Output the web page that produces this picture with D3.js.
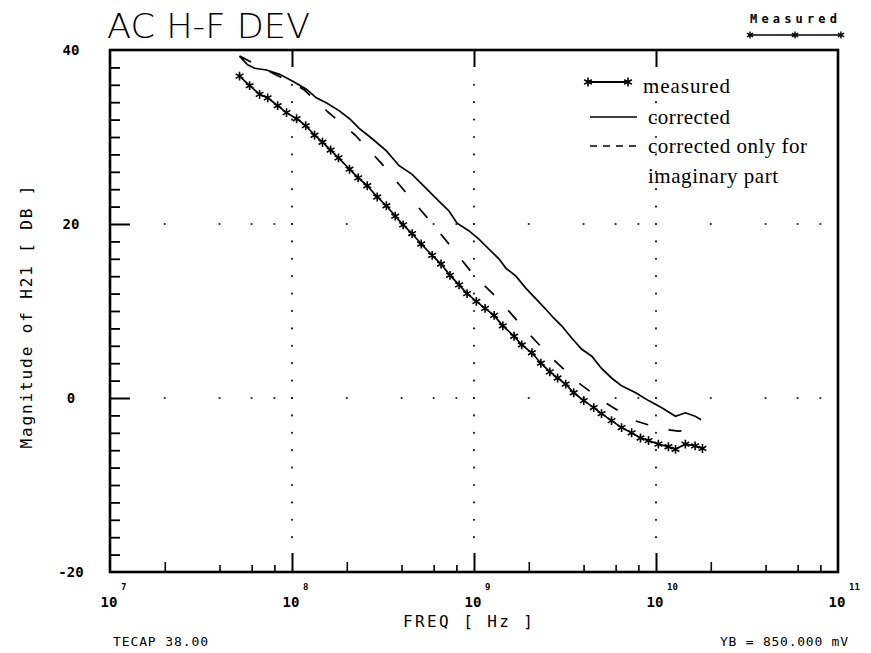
<!DOCTYPE html>
<html><head><meta charset="utf-8">
<script src="https://cdn.jsdelivr.net/npm/d3@7"></script>
<style>body{margin:0;background:#fff}</style>
</head><body><svg id="c" width="871" height="653"></svg>
<script>
// ---- data ----
const measuredFreq = [5.15e7,5.85e7,6.64e7,7.35e7,8.34e7,9.33e7,1.06e8,1.19e8,1.33e8,1.47e8,1.63e8,1.80e8,2.07e8,2.31e8,2.59e8,2.94e8,3.30e8,3.69e8,4.08e8,4.57e8,5.13e8,5.89e8,6.59e8,7.38e8,8.28e8,9.16e8,1.03e9,1.15e9,1.29e9,1.44e9,1.66e9,1.83e9,2.08e9,2.33e9,2.61e9,2.88e9,3.19e9,3.53e9,4.01e9,4.55e9,5.02e9,5.70e9,6.47e9,7.35e9,8.22e9,9.10e9,1.03e10,1.17e10,1.28e10,1.45e10,1.64e10,1.80e10];
const measuredDb = [37.0,35.9,34.9,34.5,33.6,32.8,32.1,31.3,30.2,29.4,28.5,27.6,26.3,25.3,24.4,23.1,22.1,20.9,19.9,18.9,17.7,16.4,15.4,14.1,13.0,12.0,11.1,10.3,9.5,8.3,7.1,6.1,5.2,4.0,3.0,2.3,1.6,0.6,-0.3,-1.1,-1.8,-2.6,-3.4,-4.0,-4.6,-4.9,-5.3,-5.6,-5.9,-5.3,-5.5,-5.8];

const correctedFreq = [5.15e7,5.70e7,6.24e7,7.24e7,8.55e7,1.01e8,1.20e8,1.36e8,1.55e8,1.82e8,2.07e8,2.34e8,2.76e8,3.30e8,3.88e8,4.57e8,5.46e8,6.43e8,7.29e8,8.07e8,9.40e8,1.06e9,1.21e9,1.37e9,1.50e9,1.70e9,1.93e9,2.19e9,2.48e9,2.74e9,3.03e9,3.44e9,3.91e9,4.44e9,5.02e9,5.70e9,6.47e9,7.73e9,9.10e9,1.07e10,1.28e10,1.45e10,1.64e10,1.77e10];
const correctedDb = [39.3,38.3,37.9,37.7,37.2,36.4,35.5,34.5,33.9,33.0,32.1,31.0,29.8,28.4,26.7,25.7,24.1,22.6,21.5,20.1,19.2,18.3,17.1,16.0,14.9,14.0,12.6,11.4,10.2,9.2,8.3,6.9,5.6,4.8,3.4,2.3,1.4,0.6,-0.3,-1.1,-2.1,-1.7,-2.1,-2.5];

const imagFreq = [5.15e7,7.24e7,1.01e8,1.17e8,1.57e8,2.23e8,3.09e8,4.19e8,5.60e8,7.48e8,1.00e9,1.37e9,1.88e9,2.64e9,3.72e9,5.22e9,7.62e9,1.10e10,1.33e10,1.57e10,1.77e10];
const imagDb = [39.3,37.7,36.2,35.4,32.9,30.2,27.0,23.7,20.6,17.4,14.1,11.3,8.0,4.7,1.8,-0.5,-2.6,-3.6,-3.8,-3.7,-3.8];

const xMajorTicks = [1e7,1e8,1e9,1e10,1e11];
const xTickExponents = ["7","8","9","10","11"];
const minorMultipliers = [2,4,6,8];
const yLabelTicks = [40,20,0,-20];
const yTickLabels = ["40","20","0","-20"];
const legendLabels = ["measured","corrected","corrected only for","imaginary part"];

// ---- chart ----
const svg = d3.select("#c");
const x = d3.scaleLog().domain([1e7,1e11]).range([110,838]);
const y = d3.scaleLinear().domain([-20,40]).range([572,50]);
const mono = "'DejaVu Sans Mono', 'Liberation Mono', monospace";
const serif = "'Liberation Serif', 'DejaVu Serif', serif";

const minorTicks2 = [], minorTicksOther = [];
for (let k = 7; k < 11; k++) minorMultipliers.forEach(m => (m === 2 ? minorTicks2 : minorTicksOther).push(m * Math.pow(10, k)));

// grid dots
const gridG = svg.append("g").attr("fill", "#222");
const dbDots = d3.range(-16, 38, 2);
[1e8,1e9,1e10].forEach(f => dbDots.forEach(d => gridG.append("circle").attr("cx", x(f)).attr("cy", y(d)).attr("r", 1.1)));
const fDots = xMajorTicks.slice(1, 4).concat(minorTicks2, minorTicksOther);
[20, 0].forEach(d => fDots.forEach(f => gridG.append("circle").attr("cx", x(f)).attr("cy", y(d)).attr("r", 1.1)));

// axes ticks
function styleAxis(g, w) { g.select(".domain").remove(); g.selectAll("line").attr("stroke", "#000").attr("stroke-width", w); g.selectAll("text").remove(); }
svg.append("g").attr("transform", "translate(0,572)").call(d3.axisBottom(x).tickValues(xMajorTicks.slice(1,4)).tickSize(-19).tickFormat("")).call(g => styleAxis(g, 2));
svg.append("g").attr("transform", "translate(0,572)").call(d3.axisBottom(x).tickValues(minorTicks2).tickSize(-10).tickFormat("")).call(g => styleAxis(g, 1.6));
svg.append("g").attr("transform", "translate(0,572)").call(d3.axisBottom(x).tickValues(minorTicksOther).tickSize(-7).tickFormat("")).call(g => styleAxis(g, 1.6));
svg.append("g").attr("transform", "translate(0,50)").call(d3.axisTop(x).tickValues(xMajorTicks.slice(1,4)).tickSize(-17).tickFormat("")).call(g => styleAxis(g, 2));
svg.append("g").attr("transform", "translate(110,0)").call(d3.axisLeft(y).tickValues(d3.range(-18, 40, 2).filter(v => v % 20 !== 0)).tickSize(-10).tickFormat("")).call(g => styleAxis(g, 1.8));
svg.append("g").attr("transform", "translate(110,0)").call(d3.axisLeft(y).tickValues([0, 20]).tickSize(-20).tickFormat("")).call(g => styleAxis(g, 2));

// frame
svg.append("rect").attr("x", x(1e7)).attr("y", y(40)).attr("width", x(1e11) - x(1e7)).attr("height", y(-20) - y(40))
  .attr("fill", "none").attr("stroke", "#000").attr("stroke-width", 2.6);

// y tick labels
yLabelTicks.forEach((v, i) => svg.append("text").attr("x", 71).attr("y", y(v) + 5).attr("text-anchor", "middle")
  .attr("font-family", mono).attr("font-weight", "bold").attr("font-size", 14).text(yTickLabels[i]));

// x tick labels
xMajorTicks.forEach((f, i) => {
  svg.append("text").attr("x", x(f) - 1).attr("y", 607).attr("text-anchor", "middle")
    .attr("font-family", mono).attr("font-weight", "bold").attr("font-size", 14).text("10");
  svg.append("text").attr("x", x(f) + 11).attr("y", 590)
    .attr("font-family", mono).attr("font-weight", "bold").attr("font-size", 9).text(xTickExponents[i]);
});

// axis titles
svg.append("text").attr("x", 403).attr("y", 627).attr("font-family", mono).attr("font-size", 16)
  .attr("textLength", 130).attr("lengthAdjust", "spacing").text("FREQ  [ Hz ]");
svg.append("text").attr("transform", "translate(32,317) rotate(-90)").attr("text-anchor", "middle")
  .attr("font-family", mono).attr("font-size", 16).attr("textLength", 263).attr("lengthAdjust", "spacing")
  .text("Magnitude of H21  [ DB ]");
svg.append("text").attr("x", 107).attr("y", 38).attr("font-family", "'DejaVu Sans', sans-serif").attr("font-weight", 200)
  .attr("font-size", 33).attr("textLength", 203).attr("lengthAdjust", "spacingAndGlyphs").text("AC H-F DEV");
svg.append("text").attr("x", 113).attr("y", 646).attr("font-family", mono).attr("font-size", 13)
  .attr("textLength", 95).attr("lengthAdjust", "spacing").text("TECAP 38.00");
svg.append("text").attr("x", 720).attr("y", 646).attr("font-family", mono).attr("font-size", 13)
  .attr("textLength", 128).attr("lengthAdjust", "spacing").text("YB = 850.000 mV");

// curves
const line = d3.line().x(d => x(d[0])).y(d => y(d[1]));
const measured = d3.zip(measuredFreq, measuredDb);
const corrected = d3.zip(correctedFreq, correctedDb);
const imag = d3.zip(imagFreq, imagDb);
svg.append("path").attr("d", line(corrected)).attr("fill", "none").attr("stroke", "#000").attr("stroke-width", 1.7);
svg.append("path").attr("d", line(imag)).attr("fill", "none").attr("stroke", "#000").attr("stroke-width", 1.7)
  .attr("stroke-dasharray", "13,21");
svg.append("path").attr("d", line(measured)).attr("fill", "none").attr("stroke", "#000").attr("stroke-width", 1.7);
const star = d3.symbol().type(d3.symbolAsterisk).size(55);
svg.append("g").selectAll("path").data(measured).join("path")
  .attr("transform", d => `translate(${x(d[0])},${y(d[1])})`).attr("d", star)
  .attr("fill", "none").attr("stroke", "#000").attr("stroke-width", 1.6);

// legend
const lg = svg.append("g");
lg.append("line").attr("x1", 588).attr("x2", 628).attr("y1", 82).attr("y2", 82).attr("stroke", "#000").attr("stroke-width", 1.8);
[588, 628].forEach(px => lg.append("path").attr("transform", `translate(${px},82)`).attr("d", star).attr("fill", "none").attr("stroke", "#000").attr("stroke-width", 1.6));
lg.append("line").attr("x1", 590).attr("x2", 637).attr("y1", 117).attr("y2", 117).attr("stroke", "#000").attr("stroke-width", 1.5);
lg.append("line").attr("x1", 590).attr("x2", 640).attr("y1", 146).attr("y2", 146).attr("stroke", "#000").attr("stroke-width", 1.5).attr("stroke-dasharray", "7,6");
const legY = [93, 124, 153, 183], legX = [643, 648, 648, 648], legW = [87, 82, 159, 130];
legendLabels.forEach((t, i) => lg.append("text").attr("x", legX[i]).attr("y", legY[i]).attr("font-family", serif)
  .attr("font-size", 21).attr("textLength", legW[i]).attr("lengthAdjust", "spacing").text(t));

// top-right "Measured" key
svg.append("text").attr("x", 750).attr("y", 23).attr("font-family", mono).attr("font-weight", "bold").attr("font-size", 12)
  .attr("textLength", 87).attr("lengthAdjust", "spacing").text("Measured");
svg.append("line").attr("x1", 750).attr("x2", 841).attr("y1", 35).attr("y2", 35).attr("stroke", "#000").attr("stroke-width", 1.5);
const smallStar = d3.symbol().type(d3.symbolAsterisk).size(35);
[750, 795, 841].forEach(px => svg.append("path").attr("transform", `translate(${px},35)`).attr("d", smallStar).attr("fill", "none").attr("stroke", "#000").attr("stroke-width", 1.4));
</script></body></html>
